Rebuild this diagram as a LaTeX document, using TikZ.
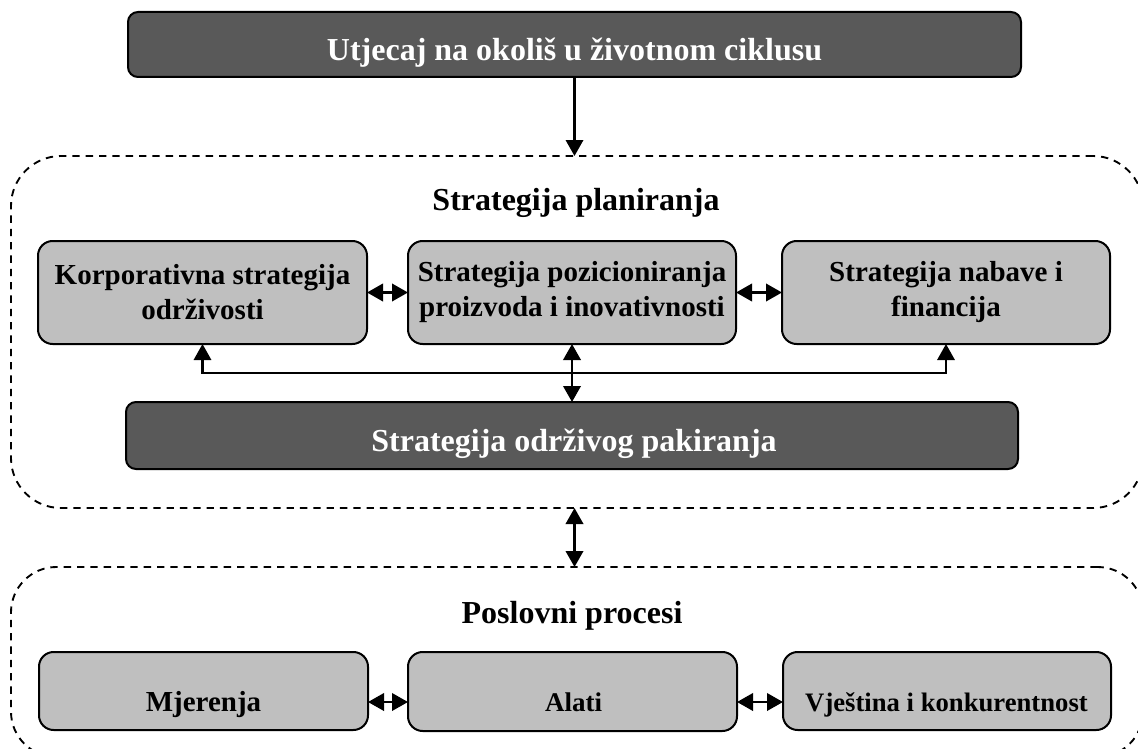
\documentclass[tikz,border=0pt]{standalone}
\usepackage{fontspec}
\setmainfont{Liberation Serif}
\usetikzlibrary{arrows.meta}
\definecolor{dkgray}{HTML}{595959}
\definecolor{ltgray}{HTML}{BFBFBF}
\newcommand\myheadfont{\fontsize{24pt}{28pt}\selectfont\bfseries}
\newcommand\myboxfont{\fontsize{21.75pt}{26.25pt}\selectfont\bfseries}
\begin{document}
\begin{tikzpicture}[x=0.75pt,y=-0.75pt,
  dbox/.style={draw=black, line width=1.5pt, fill=dkgray, rounded corners=7.5pt, inner sep=0pt, outer sep=0pt},
  lbox/.style={draw=black, line width=1.5pt, fill=ltgray, rounded corners=11pt, inner sep=0pt, outer sep=0pt, align=center, font=\myboxfont},
  container/.style={draw=black, line width=1.4pt, dash pattern=on 5.5pt off 4.5pt, inner sep=0pt, outer sep=0pt},
  tip/.tip={Triangle[length=12pt,width=13pt]},
  arr/.style={line width=1.8pt, -tip},
  darr/.style={line width=2pt, tip-tip},
  head/.style={font=\myheadfont, anchor=base},
  whitehead/.style={font=\myheadfont, anchor=base, text=white}
]
\useasboundingbox (0,0) rectangle (1138,749);
\clip (0,0) rectangle (1138,749);

% containers
\node[container, rounded corners=37.5pt, minimum width=1132*0.75pt, minimum height=352*0.75pt] (C1) at (577,332) {};
\node[container, rounded corners=34pt, minimum width=1132*0.75pt, minimum height=190*0.75pt] (C2) at (577,662) {};

% title
\node[dbox, minimum width=893*0.75pt, minimum height=65*0.75pt] (T) at (574.5,44.5) {};
\node[whitehead] (Tt) at (574.5,61) {Utjecaj na okoliš u životnom ciklusu};

% strategy planning
\node[head] (H1) at (576,210.5) {Strategija planiranja};
\node[lbox, minimum width=329*0.75pt, minimum height=103*0.75pt] (K) at (202.5,292.5) {Korporativna strategija\\održivosti};
\node[lbox, minimum width=328*0.75pt, minimum height=103*0.75pt] (S) at (572,292.5) {Strategija pozicioniranja\\proizvoda i inovativnosti};
\node[lbox, minimum width=328*0.75pt, minimum height=103*0.75pt] (N) at (946,292.5) {Strategija nabave i\\financija};
\node[dbox, minimum width=892*0.75pt, minimum height=67*0.75pt] (D) at (572,435.5) {};
\node[whitehead] (Dt) at (574,451) {Strategija održivog pakiranja};

% business processes
\node[head] (H2) at (572,623) {Poslovni procesi};
\node[lbox, minimum width=329*0.75pt, minimum height=78*0.75pt] (M) at (203.5,691) {};
\node[lbox, minimum width=329*0.75pt, minimum height=79*0.75pt] (A) at (572.5,691.5) {};
\node[lbox, minimum width=328*0.75pt, minimum height=78*0.75pt] (V) at (947,691) {};
\node[anchor=base, font=\fontsize{21.75pt}{26pt}\selectfont\bfseries] (Mt) at (203.5,711) {Mjerenja};
\node[anchor=base, font=\fontsize{20.25pt}{24pt}\selectfont\bfseries] (At) at (573.5,711) {Alati};
\node[anchor=base, font=\fontsize{20pt}{24pt}\selectfont\bfseries] (Vt) at (946.5,711) {Vještina i konkurentnost};

% connectors
\draw[arr] (T.south) -- (T.south |- C1.north);
\draw[darr] (K.east) -- (S.west);
\draw[darr] (S.east) -- (N.west);
\coordinate (busL) at (202.5,373);
\coordinate (busR) at (946,373);
\draw[line width=1.6pt, tip-tip] (K.south) -- (busL) -- (busR) -- (N.south);
\draw[darr] (S.south) -- (S.south |- D.north);
\draw[darr] (T.south |- C1.south) -- (T.south |- C2.north);
\coordinate (aML) at (368,702);
\coordinate (aAR) at (737,702);
\draw[darr] (aML) -- (aML -| A.west);
\draw[darr] (aAR) -- (aAR -| V.west);
\end{tikzpicture}
\end{document}
